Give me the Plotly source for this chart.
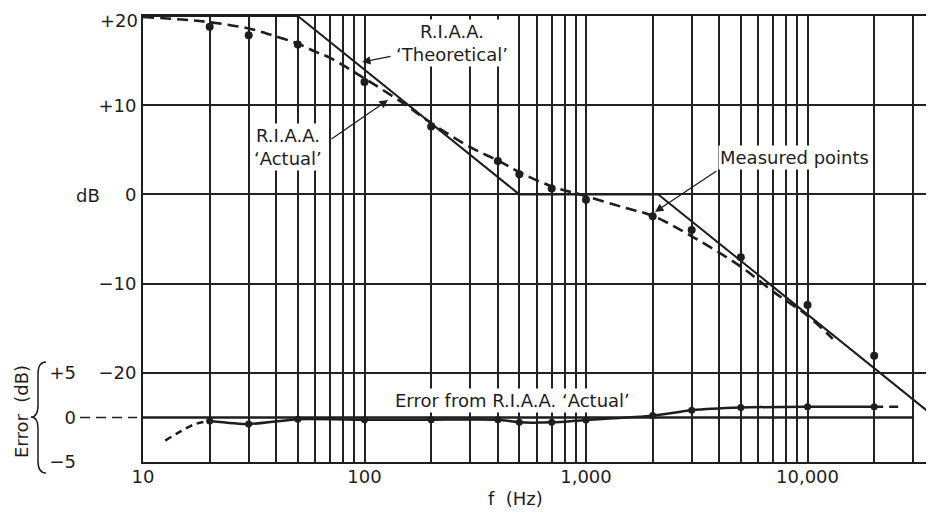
import math
import plotly.graph_objects as go

# ---- data ----
theo_f = [10, 50, 500, 2120, 40000]
theo_db = [20, 20, 0, 0, -25.5]

actual_f = [10, 15, 20, 30, 40, 50, 60, 70, 100, 150, 200, 300, 400, 500, 700,
            1000, 1500, 2000, 3000, 5000, 7000, 10000, 13000]
actual_db = [19.9, 19.6, 19.3, 18.6, 17.7, 16.9, 16.0, 15.3, 13.0, 10.2, 8.0, 5.3,
             3.8, 2.5, 0.9, -0.2, -1.5, -2.4, -4.7, -8.1, -10.9, -13.6, -16.2]

meas_f = [20, 30, 50, 100, 200, 400, 500, 700, 1000, 2000, 3000, 5000, 10000, 20000]
meas_db = [18.8, 17.85, 16.8, 12.6, 7.6, 3.75, 2.25, 0.65, -0.6, -2.45, -4.0, -7.05,
           -12.4, -18.1]
err_db = [-0.4, -0.75, -0.2, -0.25, -0.25, -0.25, -0.55, -0.55, -0.3, 0.2, 0.8, 1.1,
          1.2, 1.2]

err_low_f = [12.6, 14.7, 17.2, 20]
err_low_db = [-2.6, -1.6, -0.75, -0.4]
err_high_f = [20000, 26000]
err_high_db = [1.2, 1.2]
err_zero_f = [10, 30000]
err_zero_db = [0, 0]

x_major = [10, 100, 1000, 10000]
x_major_text = ["10", "100", "1,000", "10,000"]
x_minor = [m * d for d in (10, 100, 1000) for m in range(2, 10)] + [20000, 30000]
db_ticks = [20, 10, 0, -10, -20]
db_text = ["+20", "+10", "0", "\u221210", "\u221220"]
err_ticks = [5, 0, -5]
err_text = ["+5", "0", "\u22125"]

# ---- layout helpers (screen pixel -> paper); page has an 8px body margin ----
OFF = 8
W, H = 934 - 2 * OFF, 519 - 2 * OFF
L, T, B = 143 - OFF, 16 - OFF, 462 - OFF


def px(x):
    return (x - OFF) / W


def py(y):
    return (B - (y - OFF)) / (B - T)


INK = "#1e1e1e"
GRID = "#222222"
TICKFONT = dict(family="DejaVu Sans", size=18, color=INK)

fig = go.Figure()

fig.add_trace(go.Scatter(x=theo_f, y=theo_db, mode="lines",
                         line=dict(color=INK, width=2)))
fig.add_trace(go.Scatter(x=actual_f, y=actual_db, mode="lines",
                         line=dict(color=INK, width=2.6, dash="11px,6px", shape="spline")))
fig.add_trace(go.Scatter(x=meas_f, y=meas_db, mode="markers",
                         marker=dict(color=INK, size=8)))

fig.add_trace(go.Scatter(x=err_zero_f, y=err_zero_db, mode="lines", yaxis="y2",
                         line=dict(color=INK, width=2.5)))
fig.add_trace(go.Scatter(x=meas_f, y=err_db, mode="lines+markers", yaxis="y2",
                         line=dict(color=INK, width=2.5, shape="spline", smoothing=0.6),
                         marker=dict(color=INK, size=7)))
fig.add_trace(go.Scatter(x=err_low_f, y=err_low_db, mode="lines", yaxis="y2",
                         line=dict(color=INK, width=2.5, dash="7px,5px", shape="spline")))
fig.add_trace(go.Scatter(x=err_high_f, y=err_high_db, mode="lines", yaxis="y2",
                         line=dict(color=INK, width=2.5, dash="9px,6px")))

x_end = 1 + (W - L) / 221.5  # log10 of the frequency at the right edge

# the top label (+20) sits on the very top edge; it is drawn as an annotation
# below so that it stays inside the page
axis_text = [""] + db_text[1:]

fig.update_layout(
    width=W, height=H, showlegend=False,
    paper_bgcolor="white", plot_bgcolor="white",
    margin=dict(l=0, r=0, t=T, b=H - B),
    font=dict(family="DejaVu Sans", size=17, color=INK),
    xaxis=dict(type="log", domain=[L / W, 1], range=[1, x_end],
               tickvals=x_major, ticktext=x_major_text, ticks="",
               showgrid=True, gridcolor=GRID, gridwidth=1.5,
               minor=dict(tickvals=x_minor, showgrid=True, gridcolor=GRID,
                          gridwidth=1.5, ticks=""),
               showline=True, linecolor=INK, linewidth=2, mirror=True,
               zeroline=False, automargin=False, ticklabelstandoff=-3,
               ticklabeloverflow="allow", tickfont=TICKFONT),
    yaxis=dict(range=[-30, 20], tickvals=db_ticks, ticktext=axis_text, ticks="",
               showgrid=True, gridcolor=GRID, gridwidth=1.5, zeroline=False,
               showline=True, linecolor=INK, linewidth=2, automargin=False,
               ticklabelstandoff=1, ticklabeloverflow="allow", tickfont=TICKFONT),
    yaxis2=dict(overlaying="y", anchor="free", position=px(76), side="left",
                range=[-5, 45], tickvals=err_ticks, ticktext=err_text, ticks="",
                showgrid=False, zeroline=False, showline=False, automargin=False,
                ticklabeloverflow="allow", tickfont=TICKFONT),
)

# "+20" label, right-aligned like the other dB labels, kept inside the page
fig.add_annotation(text=db_text[0], xref="paper", yref="paper", x=px(138.5), y=py(8.5),
                   xanchor="right", yanchor="top", borderpad=0, showarrow=False,
                   font=TICKFONT)

# dashed leader from error "0" label to the axis
fig.add_shape(type="line", xref="paper", yref="y2", x0=px(80), x1=px(137), y0=0, y1=0,
              line=dict(color=INK, width=1.5, dash="10px,6px"))

# brace for the error scale
pts = [(46, 362), (38, 362), (38, 374), (38, 405), (38, 417), (31, 417),
       (38, 417), (38, 429), (38, 461), (38, 473), (46, 473)]
p = [(px(a), py(b)) for a, b in pts]
path = (f"M {p[0][0]},{p[0][1]} Q {p[1][0]},{p[1][1]} {p[2][0]},{p[2][1]} "
        f"L {p[3][0]},{p[3][1]} Q {p[4][0]},{p[4][1]} {p[5][0]},{p[5][1]} "
        f"Q {p[6][0]},{p[6][1]} {p[7][0]},{p[7][1]} "
        f"L {p[8][0]},{p[8][1]} Q {p[9][0]},{p[9][1]} {p[10][0]},{p[10][1]}")
fig.add_shape(type="path", xref="paper", yref="paper", path=path,
              line=dict(color=INK, width=1.5))


# text labels (centre positions in screen pixels)
def label(text, x, y, size=18, **kw):
    fig.add_annotation(text=text, xref="paper", yref="paper", x=px(x), y=py(y),
                       xanchor="center", yanchor="middle", showarrow=False,
                       font=dict(family="DejaVu Sans", size=size, color=INK), **kw)


label("R.I.A.A.<br>\u2018Theoretical\u2019", 452, 43, bgcolor="white")
label("R.I.A.A.<br>\u2018Actual\u2019", 288, 147, bgcolor="white")
label("Measured points", 794, 157, bgcolor="white")
label("Error from R.I.A.A. \u2018Actual\u2019", 512, 400, bgcolor="white")
label("dB", 88, 195)
label("f  (Hz)", 515, 499, size=18)
label("Error  (dB)", 21, 412, textangle=-90)


# arrows (head on the curve, tail in pixels)
def arrow(xh, yh, xt, yt):
    fig.add_annotation(text="", xref="paper", yref="paper", x=px(xh), y=py(yh),
                       axref="pixel", ayref="pixel", ax=xt - xh, ay=yt - yh,
                       showarrow=True, arrowhead=2, arrowsize=1.3, arrowwidth=1.3,
                       arrowcolor=INK)


arrow(362, 62, 392, 56)
arrow(388, 100, 330, 140)
arrow(655, 212, 718, 170)

fig.write_html("out.html")
